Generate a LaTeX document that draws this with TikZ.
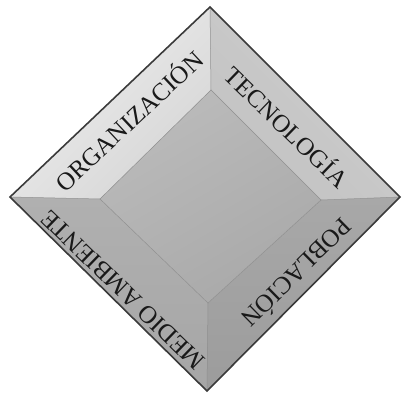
\documentclass[tikz,border=0pt]{standalone}
\usepackage{fontspec}
\setmainfont{Liberation Serif}
\definecolor{orgA}{HTML}{EFEFEF}
\definecolor{orgB}{HTML}{D6D6D6}
\definecolor{tecA}{HTML}{CECECE}
\definecolor{tecB}{HTML}{C2C2C2}
\definecolor{pobA}{HTML}{A8A8A8}
\definecolor{pobB}{HTML}{9C9C9C}
\definecolor{medA}{HTML}{B0B0B0}
\definecolor{medB}{HTML}{A6A6A6}
\definecolor{ctrA}{HTML}{BBBBBB}
\definecolor{ctrB}{HTML}{A9A9A9}
\definecolor{rim}{HTML}{3A3A3A}
\definecolor{bevel}{HTML}{8E8E8E}
\tikzset{
  lbl/.style={font=\fontsize{25}{25}\selectfont, text=black!90, inner sep=0pt},
  seam/.style={draw=bevel, line width=0.5pt},
}
\begin{document}
\begin{tikzpicture}[x=1pt,y=-1pt]
\useasboundingbox (0,0) rectangle (402,394);
% outer vertices
\coordinate (T) at (210,7);
\coordinate (R) at (400,197);
\coordinate (B) at (207,391);
\coordinate (L) at (10,197);
% inner vertices
\coordinate (t) at (211,90);
\coordinate (r) at (321,200);
\coordinate (b) at (208,303);
\coordinate (l) at (100,199);
% bands
\shade[top color=orgA, bottom color=orgB, shading angle=45] (L) -- (T) -- (t) -- (l) -- cycle;
\shade[top color=tecA, bottom color=tecB, shading angle=-45] (T) -- (R) -- (r) -- (t) -- cycle;
\shade[top color=pobA, bottom color=pobB] (R) -- (B) -- (b) -- (r) -- cycle;
\shade[top color=medA, bottom color=medB] (B) -- (L) -- (l) -- (b) -- cycle;
\shade[top color=ctrA, bottom color=ctrB, shading angle=30] (t) -- (r) -- (b) -- (l) -- cycle;
% seams
\draw[seam] (T) -- (t);
\draw[seam] (R) -- (r);
\draw[seam] (B) -- (b);
\draw[seam] (L) -- (l);
\draw[seam] (t) -- (r) -- (b) -- (l) -- cycle;
% rim
\draw[draw=rim, line width=1.6pt, line join=miter] (T) -- (R) -- (B) -- (L) -- cycle;
% labels
\node[lbl, rotate=43] (org) at (128,120) {ORGANIZACIÓN};
\node[lbl, rotate=-44] (tec) at (288,126) {TECNOLOGÍA};
\node[lbl, rotate=-135.5] (pob) at (298,274) {POBLACIÓN};
\node[lbl, rotate=136] (med) at (123,290) {MEDIO AMBIENTE};
\end{tikzpicture}
\end{document}
